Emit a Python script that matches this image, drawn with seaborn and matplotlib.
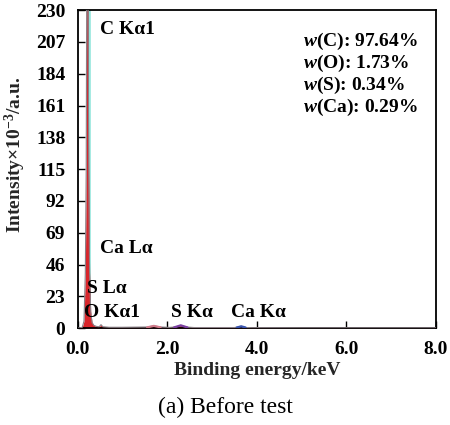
import matplotlib
matplotlib.use("Agg")
import matplotlib.pyplot as plt
import seaborn as sns
import pandas as pd

# EDS spectrum before test (energy in keV, intensity in 10^3 counts)
energy = [0.00, 0.10, 0.14, 0.17, 0.19, 0.205, 0.225, 0.245, 0.265, 0.29,
          0.32, 0.36, 0.42, 0.48, 0.52, 0.56, 0.70, 1.00, 1.55, 1.70, 1.85,
          2.05, 2.20, 2.30, 2.42, 2.60, 3.50, 3.65, 3.75, 3.90, 5.00, 8.00]
intensity = [0.0, 0.5, 5.0, 40.0, 115.0, 300.0, 300.0, 120.0, 40.0, 12.0,
             4.0, 2.0, 1.2, 1.0, 2.5, 1.0, 0.6, 0.6, 0.8, 1.6, 0.8,
             0.5, 0.9, 2.0, 0.8, 0.4, 0.4, 1.3, 0.4, 0.3, 0.2, 0.2]

c_line = 0.245  # C Kα1 marker position (keV)

peak_labels = ["C Kα1", "Ca Lα", "S Lα", "O Kα1", "S Kα", "Ca Kα"]
label_x = [0.50, 0.50, 0.21, 0.14, 2.08, 3.43]
label_y = [216.0, 57.5, 28.5, 11.5, 11.5, 11.5]

composition = ["$\\mathit{w}$(C): 97.64%", "$\\mathit{w}$(O): 1.73%",
               "$\\mathit{w}$(S): 0.34%", "$\\mathit{w}$(Ca): 0.29%"]
comp_y = [207.5, 191.5, 175.5, 159.5]

x_ticks = [0.0, 2.0, 4.0, 6.0, 8.0]
y_ticks = [0, 23, 46, 69, 92, 115, 138, 161, 184, 207, 230]

FS = 14

sns.set_theme(style="white")
plt.rcParams["font.family"] = ["Liberation Serif", "DejaVu Serif"]
plt.rcParams["mathtext.fontset"] = "custom"
plt.rcParams["mathtext.it"] = "Liberation Serif:italic:bold"
plt.rcParams["mathtext.rm"] = "Liberation Serif:bold"
plt.rcParams["mathtext.bf"] = "Liberation Serif:bold"

fig = plt.figure(figsize=(4.5, 4.25), dpi=100)
ax = fig.add_axes([0.1727, 0.228, 0.7963, 0.748])

df = pd.DataFrame({"energy": energy, "intensity": intensity})

# C peak marker
ax.axvline(c_line, color="#92e6dc", lw=2.6, zorder=1)

# spectrum: red filled trace with a thin grey outline
ax.fill_between(df["energy"], 0, df["intensity"], color="#d9252b", lw=0, zorder=2)
sns.lineplot(data=df, x="energy", y="intensity", ax=ax, color="#8a7f86",
             lw=0.8, zorder=3, estimator=None, sort=False)

# small coloured bumps along the baseline
ax.plot([1.55, 1.70, 1.85], [0.5, 1.6, 0.5], color="#d07a8a", lw=1.6, zorder=3)
ax.plot([2.15, 2.30, 2.45], [0.5, 2.0, 0.5], color="#7a3fa0", lw=1.6, zorder=3)
ax.plot([3.55, 3.65, 3.75], [0.4, 1.3, 0.4], color="#3a55b0", lw=1.6, zorder=3)

for t, x, y in zip(peak_labels, label_x, label_y):
    ax.text(x, y, t, fontsize=FS, fontweight="bold", ha="left", va="center",
            color="black", zorder=4)

for t, y in zip(composition, comp_y):
    ax.text(5.03, y, t, fontsize=FS, fontweight="bold", ha="left",
            va="center", color="black", zorder=4)

ax.set_xlim(0, 8)
ax.set_ylim(0, 230)
ax.set_xticks(x_ticks)
ax.set_xticklabels([f"{v:.1f}" for v in x_ticks])
ax.set_yticks(y_ticks)
ax.set_yticklabels([str(v) for v in y_ticks])

ax.tick_params(axis="both", direction="in", length=5, width=1.0,
               colors="black", labelsize=FS, pad=9,
               bottom=True, left=True, top=False, right=False)
for lab in ax.get_xticklabels() + ax.get_yticklabels():
    lab.set_fontweight("bold")

for s in ax.spines.values():
    s.set_visible(True)
    s.set_color("black")
    s.set_linewidth(1.3)

ax.set_xlabel("Binding energy/keV", fontsize=FS, fontweight="bold", labelpad=3)
ax.set_ylabel("Intensity×10$^{\\mathbf{-3}}$/a.u.", fontsize=FS,
              fontweight="bold", labelpad=3)
ax.yaxis.set_label_coords(-0.14, 0.545)

fig.text(0.5, 0.042, "(a) Before test", fontsize=17, ha="center", va="center",
         color="black")

fig.savefig("out.png", dpi=100, facecolor="white")
